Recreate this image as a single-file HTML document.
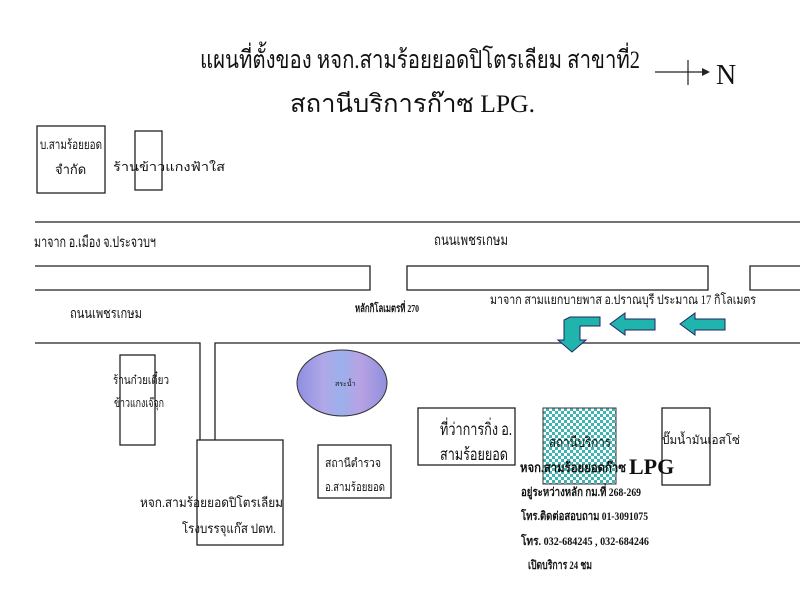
<!DOCTYPE html>
<html><head><meta charset="utf-8"><style>
html,body{margin:0;padding:0;background:#fff;}
svg{display:block;}
text{font-family:"Liberation Serif","Noto Sans CJK SC",serif;fill:#111;}
.s{font-family:"Liberation Sans","Noto Sans CJK SC",sans-serif;}
</style></head><body>
<svg width="800" height="600" viewBox="0 0 800 600" xmlns="http://www.w3.org/2000/svg">
<defs>
<linearGradient id="pond" x1="0" x2="1" y1="0" y2="0">
<stop offset="0" stop-color="#8f8fe0"/><stop offset="0.3" stop-color="#b0a8e8"/><stop offset="0.5" stop-color="#9bb0ec"/><stop offset="0.7" stop-color="#b9a2e4"/><stop offset="1" stop-color="#8e90dc"/>
</linearGradient>
<pattern id="chk" width="6" height="6" patternUnits="userSpaceOnUse">
<rect width="6" height="6" fill="#fff"/><rect width="3" height="3" fill="#3fb4b0"/><rect x="3" y="3" width="3" height="3" fill="#3fb4b0"/>
</pattern>
</defs>
<text x="200" y="68" font-size="25" textLength="440" lengthAdjust="spacingAndGlyphs">แผนที่ตั้งของ หจก.สามร้อยยอดปิโตรเลียม สาขาที่2</text>
<text x="290" y="112" font-size="25" textLength="245" lengthAdjust="spacingAndGlyphs">สถานีบริการก๊าซ LPG.</text>
<line x1="655" y1="72" x2="702" y2="72" stroke="#222" stroke-width="1.2"/>
<line x1="688" y1="60" x2="688" y2="85" stroke="#222" stroke-width="1.2"/>
<polygon points="702,68 710,72 702,76" fill="#222"/>
<text x="716" y="84" font-size="28">N</text>

<g fill="none" stroke="#222" stroke-width="1.3">
<rect x="37" y="126" width="68" height="67"/>
<rect x="135" y="131" width="27" height="59"/>
<line x1="35" y1="222" x2="800" y2="222"/>
<polyline points="35,266 370,266 370,290 35,290"/>
<rect x="407" y="266" width="301" height="24"/>
<polyline points="800,266 750,266 750,290 800,290"/>
<polyline points="35,343 200,343 200,443"/>
<polyline points="215,443 215,343 800,343"/>
<rect x="120" y="355" width="35" height="90"/>
<rect x="197" y="440" width="86" height="105" fill="#fff"/>
<rect x="318" y="445" width="73" height="53"/>
<rect x="418" y="408" width="97" height="57"/>
<rect x="662" y="408" width="48" height="77"/>
</g>
<rect x="543" y="408" width="73" height="76" fill="url(#chk)" stroke="#333" stroke-width="1"/>
<ellipse cx="342" cy="383" rx="45" ry="33" fill="url(#pond)" stroke="#333" stroke-width="1"/>
<text x="335" y="386" font-size="7" class="s">สระน้ำ</text>

<g fill="#1fb5ad" stroke="#226" stroke-width="1">
<polygon points="680,324 695,313 695,319 725,319 725,330 695,330 695,335"/>
<polygon points="610,324 625,313 625,319 655,319 655,330 625,330 625,335"/>
<polygon points="600,317 600,326 580,326 580,340 586,340 572,352 558,340 564,340 564,320 570,317"/>
</g>

<text x="40" y="149" font-size="13" textLength="62" lengthAdjust="spacingAndGlyphs">บ.สามร้อยยอด</text>
<text x="55" y="174" font-size="13">จำกัด</text>
<text x="113" y="171" font-size="12" textLength="112" lengthAdjust="spacingAndGlyphs">ร้านข้าวแกงฟ้าใส</text>
<text x="34" y="247" font-size="15" textLength="122" lengthAdjust="spacingAndGlyphs">มาจาก อ.เมือง จ.ประจวบฯ</text>
<text x="434" y="245" font-size="15" textLength="74" lengthAdjust="spacingAndGlyphs">ถนนเพชรเกษม</text>
<text x="70" y="318" font-size="14" textLength="72" lengthAdjust="spacingAndGlyphs">ถนนเพชรเกษม</text>
<text x="355" y="312" font-size="11" font-weight="bold" textLength="64" lengthAdjust="spacingAndGlyphs">หลักกิโลเมตรที่ 270</text>
<text x="490" y="304" font-size="13" textLength="266" lengthAdjust="spacingAndGlyphs">มาจาก สามแยกบายพาส อ.ปราณบุรี ประมาณ 17 กิโลเมตร</text>
<text x="113" y="384" font-size="12" textLength="56" lengthAdjust="spacingAndGlyphs">ร้านก๋วยเตี๋ยว</text>
<text x="114" y="407" font-size="12" textLength="50" lengthAdjust="spacingAndGlyphs">ข้าวแกงเจ๊จุก</text>
<text x="140" y="507" font-size="13" textLength="143" lengthAdjust="spacingAndGlyphs">หจก.สามร้อยยอดปิโตรเลียม</text>
<text x="182" y="533" font-size="13" textLength="94" lengthAdjust="spacingAndGlyphs">โรงบรรจุแก๊ส ปตท.</text>
<text x="325" y="467" font-size="12" textLength="56" lengthAdjust="spacingAndGlyphs">สถานีตำรวจ</text>
<text x="325" y="491" font-size="12" textLength="60" lengthAdjust="spacingAndGlyphs">อ.สามร้อยยอด</text>
<text x="440" y="435" font-size="17" textLength="72" lengthAdjust="spacingAndGlyphs">ที่ว่าการกิ่ง อ.</text>
<text x="440" y="460" font-size="17" textLength="68" lengthAdjust="spacingAndGlyphs">สามร้อยยอด</text>
<text x="549" y="447" font-size="14" textLength="62" lengthAdjust="spacingAndGlyphs">สถานีบริการ</text>
<text x="520" y="472" font-size="13" font-weight="bold" textLength="106" lengthAdjust="spacingAndGlyphs">หจก.สามร้อยยอดก๊าซ</text>
<text x="629" y="474" font-size="22" font-weight="bold">LPG</text>
<text x="662" y="444" font-size="12" textLength="78" lengthAdjust="spacingAndGlyphs">ปั๊มน้ำมันเอสโซ่</text>
<g font-weight="bold" font-size="12">
<text x="521" y="496" textLength="120" lengthAdjust="spacingAndGlyphs">อยู่ระหว่างหลัก กม.ที่ 268-269</text>
<text x="521" y="520" textLength="127" lengthAdjust="spacingAndGlyphs">โทร.ติดต่อสอบถาม 01-3091075</text>
<text x="521" y="545" textLength="128" lengthAdjust="spacingAndGlyphs">โทร. 032-684245 , 032-684246</text>
<text x="528" y="569" textLength="64" lengthAdjust="spacingAndGlyphs">เปิดบริการ 24 ชม</text>
</g>
</svg>
</body></html>
